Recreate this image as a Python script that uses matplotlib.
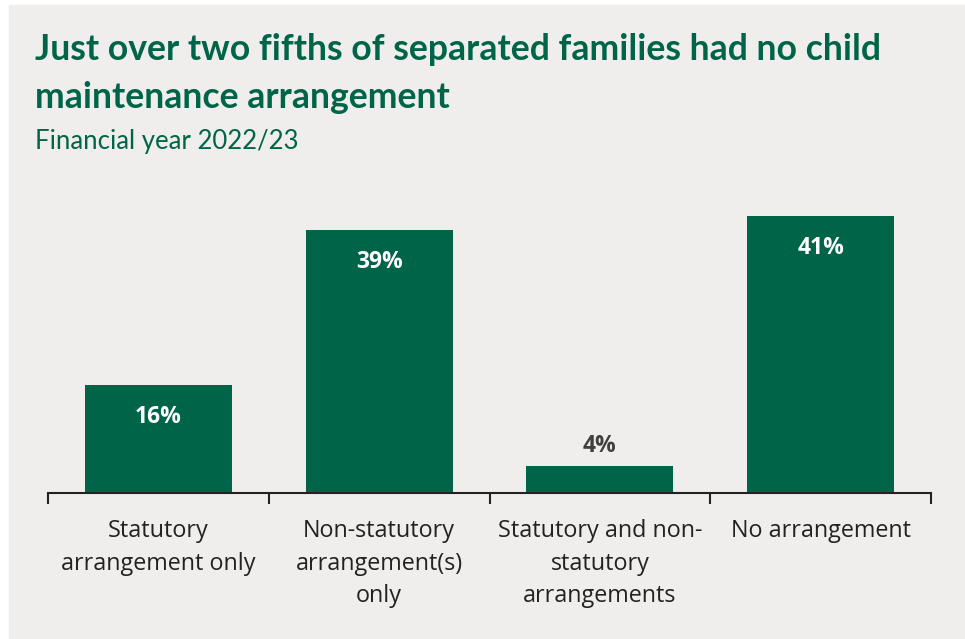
import matplotlib.pyplot as plt
from matplotlib.ticker import FixedLocator

# Data
categories = ["Statutory\narrangement only",
              "Non-statutory\narrangement(s)\nonly",
              "Statutory and non-\nstatutory\narrangements",
              "No arrangement"]
values = [16, 39, 4, 41]
labels = ["16%", "39%", "4%", "41%"]

green = "#006548"
bg = "#efeeec"

W, H = 965, 639
fig = plt.figure(figsize=(W / 100, H / 100), dpi=100)
fig.patch.set_facecolor("white")

# grey panel behind everything
fig.patches.append(plt.Rectangle((9 / W, 0), 1 - 9 / W, 1 - 5 / H,
                                 transform=fig.transFigure, color=bg, zorder=-1))

ax = fig.add_axes([48 / W, (H - 493) / H, (931 - 48) / W, 304 / H])
ax.set_facecolor("none")

x = range(len(values))
bars = ax.bar(x, values, width=0.665, color=green)
ax.set_xlim(-0.5, 3.5)
ax.set_ylim(0, 45)

for rect, v, lab in zip(bars, values, labels):
    cx = rect.get_x() + rect.get_width() / 2
    if v > 10:
        ax.annotate(lab, (cx, v), xytext=(0, -32), textcoords="offset pixels",
                    ha="center", va="center", color="white",
                    fontsize=16.5, fontweight="bold", family="Open Sans")
    else:
        ax.annotate(lab, (cx, v), xytext=(0, 20), textcoords="offset pixels",
                    ha="center", va="center", color="#404040",
                    fontsize=16.5, fontweight="bold", family="Open Sans")

for s in ["top", "right", "left"]:
    ax.spines[s].set_visible(False)
ax.spines["bottom"].set_linewidth(1.5)
ax.spines["bottom"].set_color("#222222")
ax.set_yticks([])
ax.set_xticks(list(x))
ax.set_xticklabels(categories, fontsize=16.8, family="Open Sans",
                   color="#222222", linespacing=1.46, va="top")
ax.tick_params(axis="x", which="major", length=0, pad=19)
ax.xaxis.set_minor_locator(FixedLocator([-0.5, 0.5, 1.5, 2.5, 3.5]))
ax.tick_params(axis="x", which="minor", length=8, width=1.5, color="#222222")

fig.text(35 / W, 1 - 50 / H,
         "Just over two fifths of separated families had no child",
         fontsize=25.7, fontweight="bold", family="Lato", color=green,
         va="center", ha="left")
fig.text(35 / W, 1 - 97 / H, "maintenance arrangement",
         fontsize=25.7, fontweight="bold", family="Lato", color=green,
         va="center", ha="left")
fig.text(35 / W, 1 - 141 / H, "Financial year 2022/23", fontsize=18.5,
         family="Lato", color=green, va="center", ha="left")

fig.savefig("out.png", dpi=100, facecolor=fig.get_facecolor())
